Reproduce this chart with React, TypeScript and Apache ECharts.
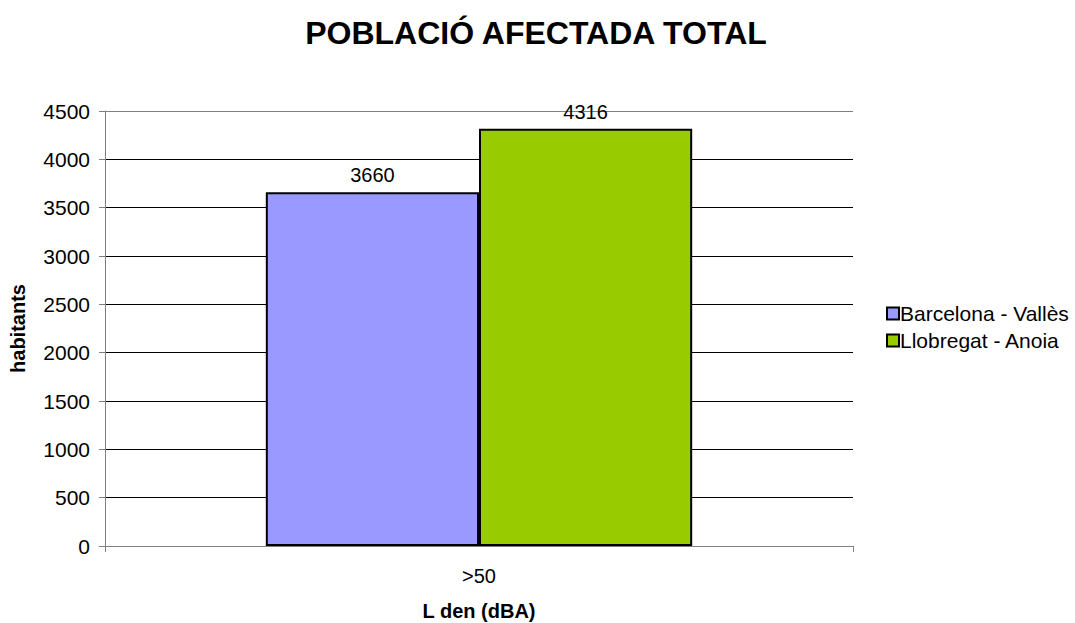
import React, { useEffect, useRef } from "react";
import * as echarts from "echarts";

const categories = [">50"];
const seriesNames = ["Barcelona - Vallès", "Llobregat - Anoia"];
const barcelonaValles = [3660];
const llobregatAnoia = [4316];
const colors = ["#9999FF", "#99CC00"];

export default function App() {
  const ref = useRef<HTMLDivElement>(null);
  useEffect(() => {
    const chart = echarts.init(ref.current!, null, { renderer: "svg" });
    const font = "'Liberation Sans', Arial, sans-serif";
    const mk = (name: string, data: number[], color: string) => ({
      name,
      type: "bar",
      data,
      barGap: "0%",
      barCategoryGap: "43%",
      itemStyle: { color, borderColor: "#000", borderWidth: 2 },
      label: {
        show: true,
        position: "top",
        distance: 7,
        color: "#000",
        fontSize: 20,
        fontFamily: font,
      },
    });
    chart.setOption({
      animation: false,
      backgroundColor: "#fff",
      textStyle: { fontFamily: font },
      title: {
        text: "POBLACIÓ AFECTADA TOTAL",
        left: 531,
        textAlign: "center",
        top: 12,
        textStyle: { fontSize: 32, fontWeight: "bold", color: "#000", fontFamily: font },
      },
      legend: {
        orient: "vertical",
        left: 881,
        top: 298,
        itemWidth: 12,
        itemHeight: 12,
        itemGap: 6,
        icon: "rect",
        textStyle: { fontSize: 21, color: "#000", fontFamily: font, padding: [0, 0, 0, -4] },
        data: seriesNames,
      },
      grid: { left: 105, right: 222, top: 111, bottom: 77, outerBoundsMode: "none", containLabel: false },
      xAxis: {
        type: "category",
        data: categories,
        name: "L den (dBA)",
        nameLocation: "middle",
        nameGap: 55,
        nameTextStyle: { fontSize: 20, fontWeight: "bold", color: "#000", fontFamily: font },
        axisLine: { lineStyle: { color: "#808080", width: 1 } },
        axisTick: { show: true, length: 6, lineStyle: { color: "#808080" } },
        axisLabel: { fontSize: 20, color: "#000", margin: 20, fontFamily: font },
      },
      yAxis: {
        type: "value",
        min: 0,
        max: 4500,
        interval: 500,
        name: "habitants",
        nameLocation: "middle",
        nameGap: 77,
        nameTextStyle: { fontSize: 20, fontWeight: "bold", color: "#000", fontFamily: font },
        axisLine: { show: true, lineStyle: { color: "#808080", width: 1 } },
        axisTick: { show: true, length: 6, lineStyle: { color: "#808080" } },
        axisLabel: {
          fontSize: 21,
          color: "#000",
          margin: 15,
          fontFamily: font,
          formatter: (v: number) => String(v),
        },
        splitLine: {
          show: true,
          lineStyle: {
            color: ["#000", "#000", "#000", "#000", "#000", "#000", "#000", "#000", "#000", "#808080"],
            width: 1,
          },
        },
      },
      series: [
        mk(seriesNames[0], barcelonaValles, colors[0]),
        mk(seriesNames[1], llobregatAnoia, colors[1]),
      ],
    });
    return () => chart.dispose();
  }, []);
  return <div ref={ref} style={{ width: 1075, height: 623, position: "absolute", left: 0, top: 0 }} />;
}
